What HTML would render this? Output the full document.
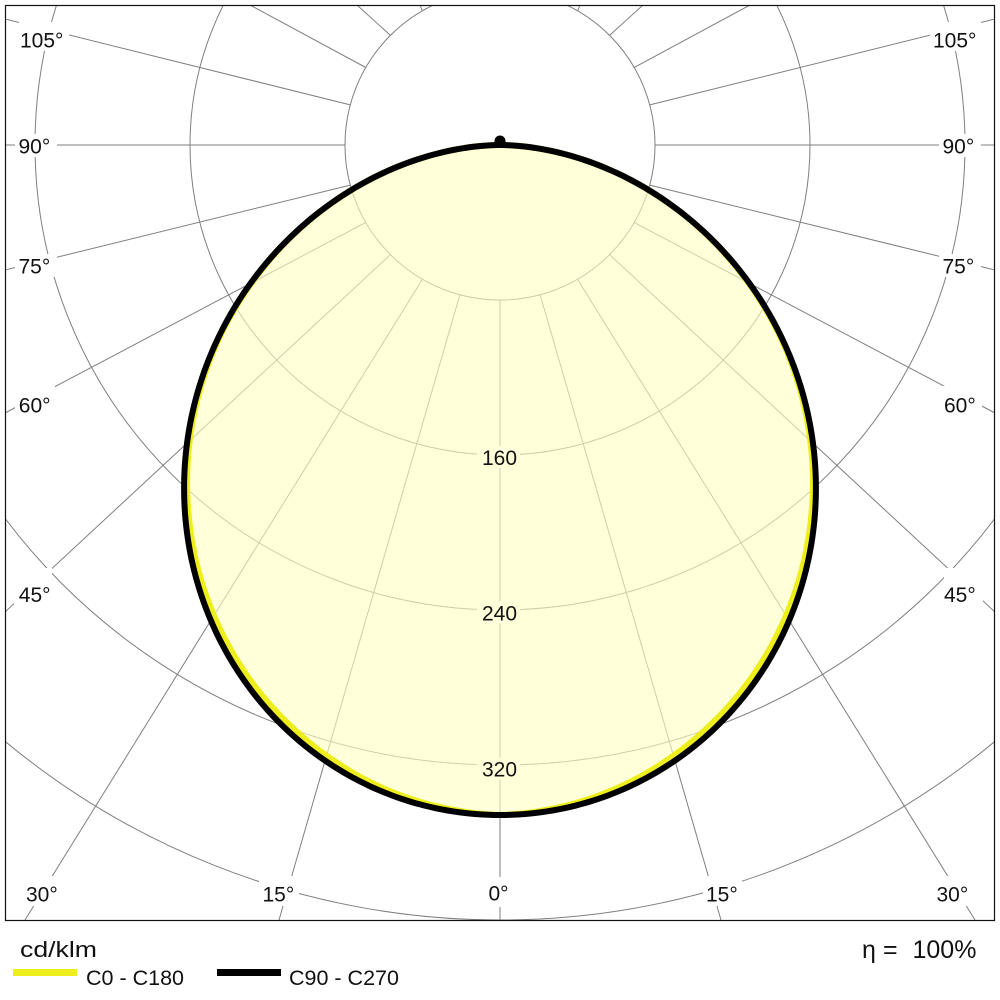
<!DOCTYPE html>
<html><head><meta charset="utf-8"><style>
html,body{margin:0;padding:0;background:#fff;}
svg{display:block;}
text{font-family:"Liberation Sans",Arial,sans-serif;fill:#111;}
</style></head><body>
<svg width="1000" height="1000" viewBox="0 0 1000 1000" xmlns="http://www.w3.org/2000/svg">
<defs><clipPath id="c"><rect x="5" y="5" width="990" height="915"/></clipPath></defs>
<rect width="1000" height="1000" fill="#fff"/>
<g clip-path="url(#c)" stroke="#7f7f7f" stroke-width="1" fill="none">
<circle cx="500" cy="145" r="155"/>
<circle cx="500" cy="145" r="310"/>
<circle cx="500" cy="145" r="465"/>
<circle cx="500" cy="145" r="620"/>
<circle cx="500" cy="145" r="775"/>
<line x1="500" y1="300" x2="500" y2="920"/>
<line x1="459.88" y1="294.72" x2="279" y2="920"/>
<line x1="422.5" y1="279.23" x2="25" y2="920"/>
<line x1="390.4" y1="254.6" x2="5" y2="612"/>
<line x1="365.77" y1="222.5" x2="5" y2="413"/>
<line x1="350.28" y1="185.12" x2="5" y2="270"/>
<line x1="345" y1="145" x2="5" y2="145"/>
<line x1="350.28" y1="104.88" x2="5" y2="19"/>
<line x1="365.77" y1="67.5" x2="250" y2="5"/>
<line x1="390.4" y1="35.4" x2="357" y2="5"/>
<line x1="422.5" y1="10.77" x2="420" y2="5"/>
<line x1="540.12" y1="294.72" x2="721" y2="920"/>
<line x1="577.5" y1="279.23" x2="975" y2="920"/>
<line x1="609.6" y1="254.6" x2="995" y2="612"/>
<line x1="634.23" y1="222.5" x2="995" y2="413"/>
<line x1="649.72" y1="185.12" x2="995" y2="270"/>
<line x1="655" y1="145" x2="995" y2="145"/>
<line x1="649.72" y1="104.88" x2="995" y2="19"/>
<line x1="634.23" y1="67.5" x2="750" y2="5"/>
<line x1="609.6" y1="35.4" x2="643" y2="5"/>
<line x1="577.5" y1="10.77" x2="580" y2="5"/>
</g>
<!-- fill -->
<path id="fillp" fill="#ffffc4" fill-opacity="0.62" stroke="none" d="M500,145 L483.39,145.73 L462.5,148.28 L416.41,159.74 L368.64,180.2 L322.48,209.61 L280.22,247.49 L243.92,292.85 L215.16,344.45 L195.33,400.65 L185.27,459.73 L185.55,519.74 L196.31,578.72 L217.3,634.66 L247.88,685.68 L287.07,730.03 L333.54,766.24 L385.74,793 L441.87,809.46 L500,815 L558.13,809.46 L614.26,793 L666.46,766.24 L712.93,730.03 L752.12,685.68 L782.7,634.66 L803.69,578.72 L814.45,519.74 L814.73,459.73 L804.67,400.65 L784.84,344.45 L756.08,292.85 L719.78,247.49 L677.52,209.61 L631.36,180.2 L583.59,159.74 L537.5,148.28 L516.61,145.73 Z"/>
<!-- value labels -->
<g fill="#ffffda">
<rect x="477" y="446" width="43" height="22"/>
<rect x="477" y="601.5" width="43" height="22"/>
<rect x="477" y="757.5" width="43" height="22"/>
</g>
<g font-size="21" text-anchor="middle">
<text x="499.5" y="465">160</text>
<text x="499.5" y="620.5">240</text>
<text x="499.5" y="776.5">320</text>
</g>
<!-- curves -->
<path id="yel" fill="none" stroke="#eeee1c" stroke-width="6" stroke-linejoin="round" d="M500,145 L483.39,145.73 L462.5,148.28 L416.41,159.74 L368.64,180.2 L322.95,209.44 L281.13,247.06 L245.21,292.1 L216.8,343.3 L197.63,398.72 L188.1,456.9 L188.77,515.91 L199.46,574.21 L220.29,629.46 L250.41,680.24 L289.12,724.39 L334.83,761.41 L386.35,789.55 L442.04,807.47 L500,815 L557.96,807.47 L613.65,789.55 L665.17,761.41 L710.88,724.39 L749.59,680.24 L779.71,629.46 L800.54,574.21 L811.23,515.91 L811.9,456.9 L802.37,398.72 L783.2,343.3 L754.79,292.1 L718.87,247.06 L677.05,209.44 L631.36,180.2 L583.59,159.74 L537.5,148.28 L516.61,145.73 Z"/>
<path id="blk" fill="none" stroke="#000" stroke-width="6" stroke-linejoin="round" d="M500,145 L483.39,145.73 L462.5,148.28 L416.41,159.74 L368.64,180.2 L322.48,209.61 L280.22,247.49 L243.92,292.85 L215.16,344.45 L195.33,400.65 L185.27,459.73 L185.55,519.74 L196.31,578.72 L217.3,634.66 L247.88,685.68 L287.07,730.03 L333.54,766.24 L385.74,793 L441.87,809.46 L500,815 L558.13,809.46 L614.26,793 L666.46,766.24 L712.93,730.03 L752.12,685.68 L782.7,634.66 L803.69,578.72 L814.45,519.74 L814.73,459.73 L804.67,400.65 L784.84,344.45 L756.08,292.85 L719.78,247.49 L677.52,209.61 L631.36,180.2 L583.59,159.74 L537.5,148.28 L516.61,145.73 Z"/>
<circle cx="500" cy="141" r="5.5" fill="#000"/>
<!-- angle label backgrounds -->
<g fill="#fff">
<rect x="19" y="22" width="50" height="29"/>
<rect x="15" y="134" width="42" height="23"/>
<rect x="15" y="254" width="42" height="23"/>
<rect x="15" y="386" width="40" height="30"/>
<rect x="14" y="568" width="38" height="38"/>
<rect x="23" y="876" width="39" height="30"/>
<rect x="259" y="876" width="40" height="30"/>
<rect x="485" y="877" width="30" height="30"/>
<rect x="703" y="876" width="39" height="30"/>
<rect x="934" y="876" width="39" height="30"/>
<rect x="930" y="22" width="51" height="29"/>
<rect x="939" y="134" width="42" height="23"/>
<rect x="939" y="254" width="42" height="23"/>
<rect x="940" y="386" width="42" height="30"/>
<rect x="944" y="568" width="39" height="38"/>
</g>
<g font-size="21">
<text x="20" y="47.5">105°</text>
<text x="18.5" y="153.5">90°</text>
<text x="18.5" y="273.5">75°</text>
<text x="18.8" y="412.5">60°</text>
<text x="18.8" y="602">45°</text>
<text x="26" y="901.5">30°</text>
<text x="262.5" y="901.5">15°</text>
<text x="488.5" y="900.5">0°</text>
<text x="706" y="901.5">15°</text>
<text x="936.5" y="901.5">30°</text>
<text x="933" y="47.5">105°</text>
<text x="942.5" y="153.5">90°</text>
<text x="942.5" y="273.5">75°</text>
<text x="944" y="412.5">60°</text>
<text x="944" y="602">45°</text>
</g>
<rect x="5.5" y="5.5" width="989" height="915" fill="none" stroke="#111" stroke-width="1.2"/>
<!-- legend -->
<text x="20" y="957" font-size="22" textLength="77" lengthAdjust="spacingAndGlyphs">cd/klm</text>
<rect x="13" y="969" width="64" height="7" fill="#eeee1c"/>
<text x="86" y="985" font-size="21.5">C0 - C180</text>
<rect x="217" y="969" width="64" height="7" fill="#000"/>
<text x="289" y="985" font-size="21.5">C90 - C270</text>
<text x="862" y="958" font-size="25">η</text>
<text x="883" y="958" font-size="25">=</text>
<text x="912.5" y="958" font-size="25">100%</text>
</svg>
<script>
(function(){
  try{
    var cx=500,cy=145,R=670,n=1.18;
    var dt=[[0,0],[5,2],[10,3.5],[15,5],[20,6],[25,6],[30,6],[35,5.5],[40,5],[45,4],[50,3],[55,2],[60,1.5],[65,1],[70,0.5],[75,0],[90,0]];
    function delta(g){
      g=Math.abs(g);
      for(var i=0;i<dt.length-1;i++){
        if(g>=dt[i][0]&&g<=dt[i+1][0]){
          var t=(g-dt[i][0])/(dt[i+1][0]-dt[i][0]);
          return dt[i][1]+t*(dt[i+1][1]-dt[i][1]);
        }
      }
      return 0;
    }
    function build(useDelta){
      var s='';
      for(var g=90;g>=-90.0001;g-=0.5){
        var a=g*Math.PI/180;
        var c=Math.cos(a); if(c<0)c=0;
        var r=R*Math.pow(c,n);
        if(useDelta) r=Math.max(0,r-delta(g));
        var x=cx-r*Math.sin(a), y=cy+r*c;
        s+=(s?' L':'M')+x.toFixed(2)+','+y.toFixed(2);
      }
      return s+' Z';
    }
    var b=build(false), yv=build(true);
    document.getElementById('blk').setAttribute('d',b);
    document.getElementById('fillp').setAttribute('d',b);
    document.getElementById('yel').setAttribute('d',yv);
  }catch(e){}
})();
</script>
</body></html>
